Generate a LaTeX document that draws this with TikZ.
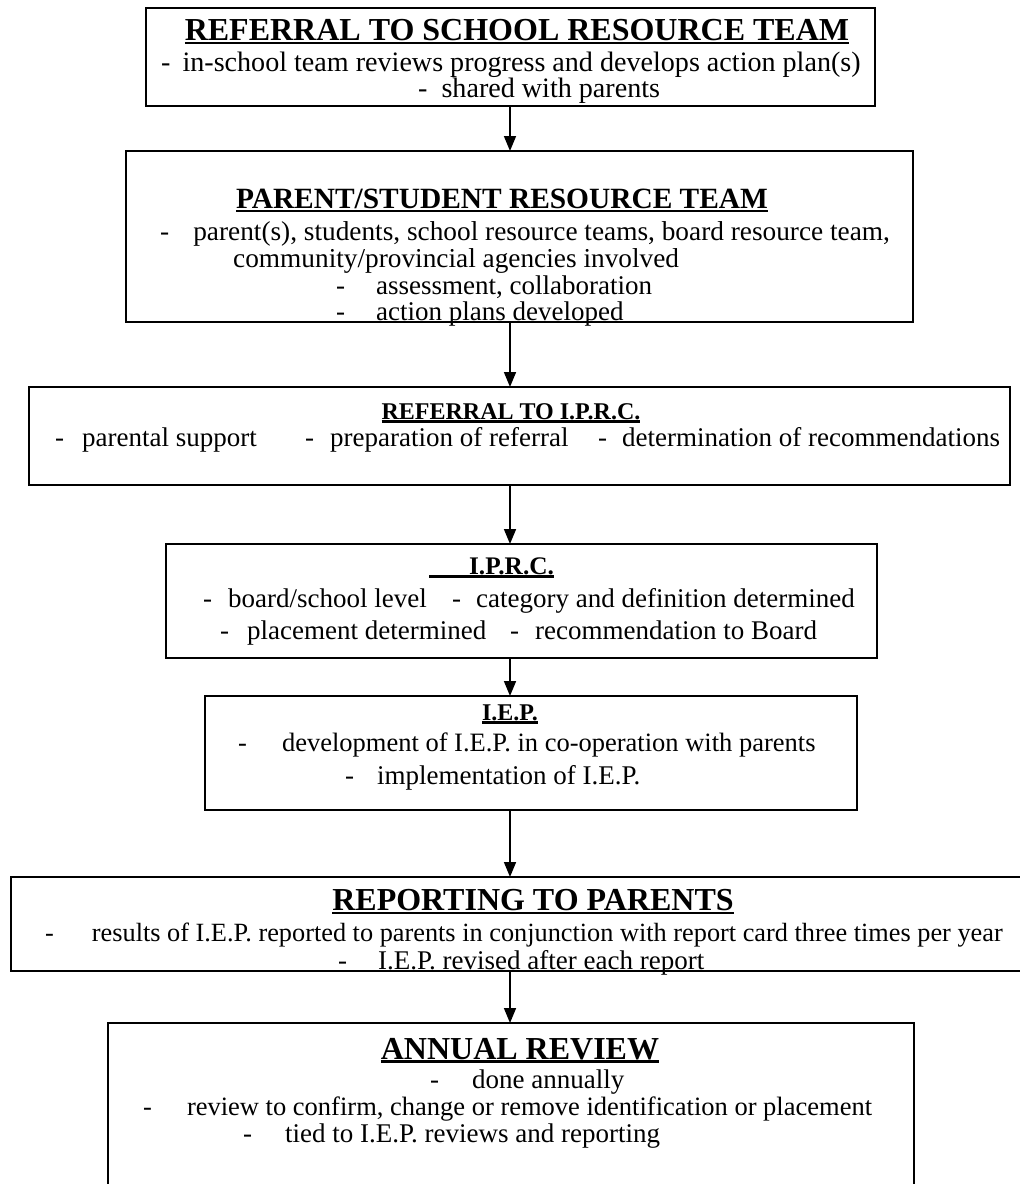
\documentclass[tikz,border=0pt]{standalone}
\usepackage{fontspec}
\setmainfont{Liberation Serif}
\newfontfamily\tfont{Liberation Serif}[UprightFont={* Bold}]
\usetikzlibrary{arrows.meta}
\newcommand\ulx[2][-4pt]{\setbox0\hbox{#2}\leavevmode\rlap{\copy0}\rule[#1]{\wd0}{2.2pt}}
\newcommand\fsz[1]{\fontsize{#1}{#1}\selectfont}
\tikzset{
  box/.style={draw, line width=1.6pt, rectangle, inner sep=0pt, outer sep=0pt},
  bigtitle/.style={font=\tfont\fsz{32}, inner sep=0pt, anchor=base},
  smalltitle/.style={font=\tfont\fsz{24}, inner sep=0pt, anchor=base},
  midtitle/.style={font=\tfont\fsz{29.4}, inner sep=0pt, anchor=base},
  txt/.style={font=\fsz{27}, inner sep=0pt, anchor=base west},
  arr/.style={line width=1.6pt, -{Triangle[length=15pt,width=12pt]}}
}
\begin{document}
\begin{tikzpicture}[x=1pt,y=-1pt]
\useasboundingbox (0,0) rectangle (1020,1184);
\fill[white] (0,0) rectangle (1020,1184);
\coordinate (ax) at (510,0);
% boxes
\node[box, minimum width=729pt, minimum height=98pt] (b1) at (510.5,57) {};
\node[box, minimum width=787pt, minimum height=171pt] (b2) at (519.5,236.5) {};
\node[box, minimum width=981pt, minimum height=98pt] (b3) at (519.5,436) {};
\node[box, minimum width=711pt, minimum height=114pt] (b4) at (521.5,601) {};
\node[box, minimum width=652pt, minimum height=114pt] (b5) at (531,753) {};
\node[box, minimum width=1029pt, minimum height=94pt] (b6) at (525.5,924) {};
\node[box, minimum width=806pt, minimum height=177pt] (b7) at (511,1111.5) {};
% box 1
\node[bigtitle] (t1) at (517,40) {\ulx{REFERRAL TO SCHOOL RESOURCE TEAM}};
\node[txt, font=\fsz{28.1}] (t1a) at (161,71) {-\hspace{12pt}in-school team reviews progress and develops action plan(s)};
\node[txt, font=\fsz{28.1}] (t1b) at (418,97) {-\hspace{14pt}shared with parents};
% box 2
\node[midtitle] (t2) at (502,208) {\ulx{PARENT/STUDENT RESOURCE TEAM}};
\node[txt, font=\fsz{27.3}] (t2a) at (160,240) {-\hspace{24pt}parent(s), students, school resource teams, board resource team,};
\node[txt, font=\fsz{27.3}] (t2b) at (233,267) {community/provincial agencies involved};
\node[txt] (t2c) at (336,294) {-\hspace{31pt}assessment, collaboration};
\node[txt] (t2d) at (336,320) {-\hspace{31pt}action plans developed};
% box 3
\node[smalltitle] (t3) at (511,419) {\ulx[-3.5pt]{REFERRAL TO I.P.R.C.}};
\node[txt] (t3a) at (55,446) {-\hspace{18pt}parental support};
\node[txt] (t3b) at (305,446) {-\hspace{16pt}preparation of referral};
\node[txt] (t3c) at (598,446) {-\hspace{15pt}determination of recommendations};
% box 4
\node[smalltitle, font=\tfont\fsz{25.3}] (t4) at (491.5,574) {\ulx[-3.5pt]{\hspace{40pt}I.P.R.C.}};
\node[txt] (t4a) at (203,607) {-\hspace{16pt}board/school level};
\node[txt] (t4b) at (452,607) {-\hspace{15pt}category and definition determined};
\node[txt] (t4c) at (220,639) {-\hspace{18pt}placement determined};
\node[txt] (t4d) at (510,639) {-\hspace{16pt}recommendation to Board};
% box 5
\node[smalltitle] (t5) at (510,720) {\ulx[-3.5pt]{I.E.P.}};
\node[txt, font=\fsz{26.5}] (t5a) at (238,751) {-\hspace{35pt}development of I.E.P. in co-operation with parents};
\node[txt] (t5b) at (345,784) {-\hspace{23pt}implementation of I.E.P.};
% box 6
\node[bigtitle] (t6) at (533,910) {\ulx{REPORTING TO PARENTS}};
\node[txt, font=\fsz{26.3}] (t6a) at (45,941) {-\hspace{38pt}results of I.E.P. reported to parents in conjunction with report card three times per year};
\node[txt] (t6b) at (338,969) {-\hspace{31pt}I.E.P. revised after each report};
% box 7
\node[bigtitle] (t7) at (520,1059) {\ulx[-3.5pt]{ANNUAL REVIEW}};
\node[txt] (t7a) at (430,1088) {-\hspace{33pt}done annually};
\node[txt, font=\fsz{26.5}] (t7b) at (143,1115) {-\hspace{35pt}review to confirm, change or remove identification or placement};
\node[txt] (t7c) at (243,1142) {-\hspace{33pt}tied to I.E.P. reviews and reporting};
% arrows
\draw[arr] (b1.south -| ax) -- (b2.north -| ax);
\draw[arr] (b2.south -| ax) -- (b3.north -| ax);
\draw[arr] (b3.south -| ax) -- (b4.north -| ax);
\draw[arr] (b4.south -| ax) -- (b5.north -| ax);
\draw[arr] (b5.south -| ax) -- (b6.north -| ax);
\draw[arr] (b6.south -| ax) -- (b7.north -| ax);
\end{tikzpicture}
\end{document}
